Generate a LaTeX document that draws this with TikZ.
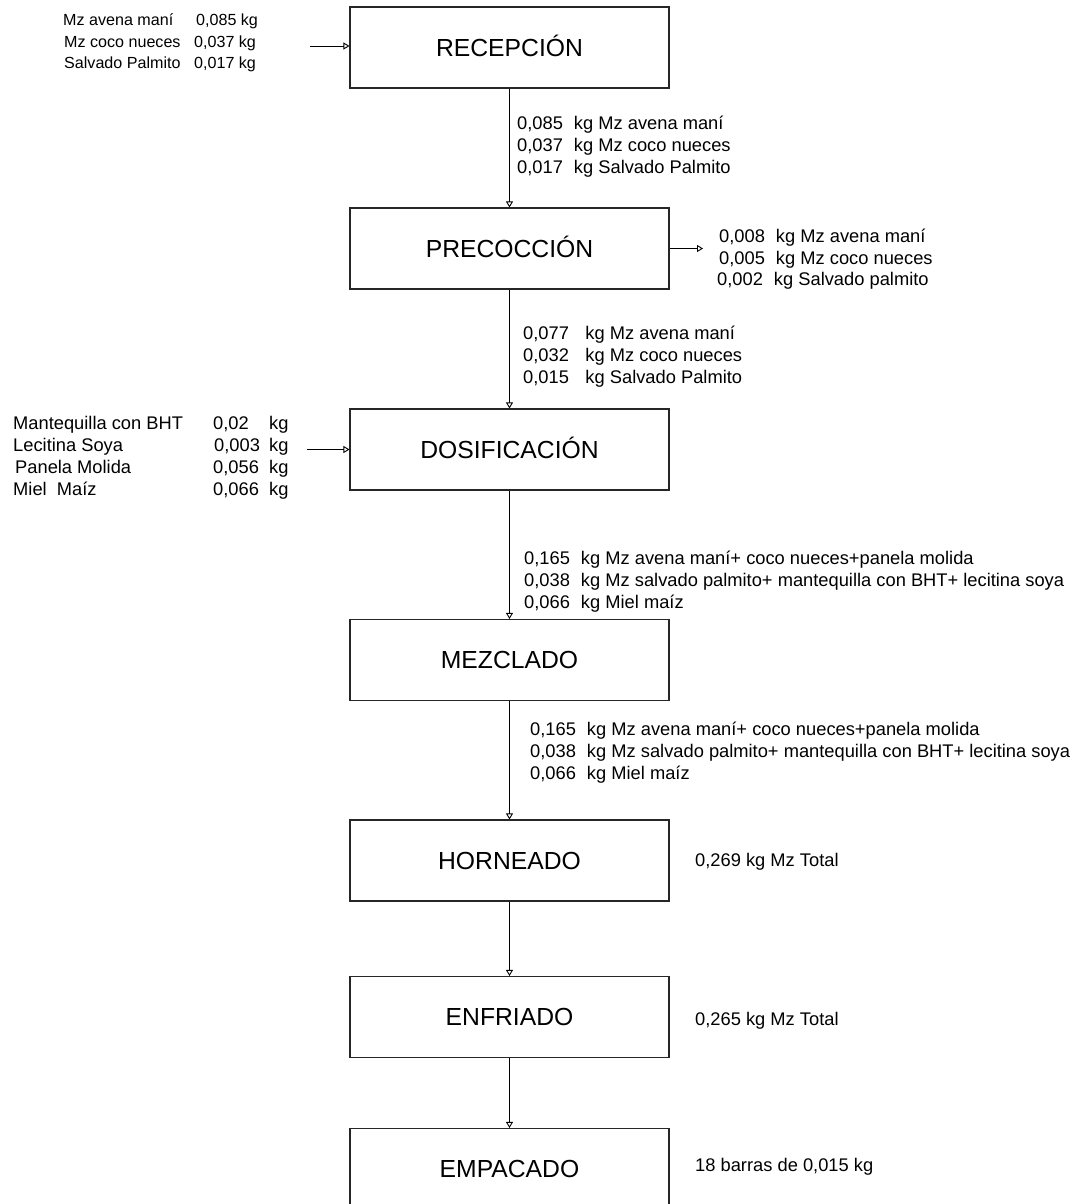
\documentclass[tikz,border=0pt]{standalone}
\usepackage{fontspec}
\setmainfont{Liberation Sans}
\usetikzlibrary{arrows.meta}
\newcommand{\kgap}{\hspace{11pt}}
\newcommand{\kgapw}{\hspace{16.5pt}}
\begin{document}
\begin{tikzpicture}[x=1pt,y=-1pt,
  stage/.style={draw=black!85, line width=1.1pt, minimum width=319pt, minimum height=81pt,
    inner sep=0pt, text height=17.8pt, text depth=0pt, font=\fontsize{24.7}{30}\selectfont},
  txt/.style={anchor=base west, inner sep=0pt, font=\fontsize{18.3}{22}\selectfont},
  txs/.style={anchor=base west, inner sep=0pt, font=\fontsize{16.1}{19}\selectfont},
  flow/.style={line width=0.9pt, -{Triangle[open,length=6pt,width=7pt]}}]
\useasboundingbox (0,0) rectangle (1081,1204);

% process stages
\node[stage] (rec)  at (509.5,47.5)  {RECEPCIÓN};
\node[stage] (prec) at (509.5,248.5) {PRECOCCIÓN};
\node[stage] (dos)  at (509.5,449.5) {DOSIFICACIÓN};
\node[stage] (mez)  at (509.5,660)   {MEZCLADO};
\node[stage] (hor)  at (509.5,860.5) {HORNEADO};
\node[stage] (enf)  at (509.5,1017)  {ENFRIADO};
\node[stage] (emp)  at (509.5,1169)  {EMPACADO};

% main flow
\draw[flow] (rec) -- (prec);
\draw[flow] (prec) -- (dos);
\draw[flow] (dos) -- (mez);
\draw[flow] (mez) -- (hor);
\draw[flow] (hor) -- (enf);
\draw[flow] (enf) -- (emp);

% raw material input
\node[txs] (in1a) at (63,26)   {Mz avena maní};
\node[txs] (in2a) at (64,47.5) {Mz coco nueces};
\node[txs] (in3a) at (64,69)   {Salvado Palmito};
\node[txs] (in1b) at (196,26)   {0,085 kg};
\node[txs] (in2b) at (194,47.5) {0,037 kg};
\node[txs] (in3b) at (194,69)   {0,017 kg};
\coordinate (inrec) at (310,46);
\draw[flow] (inrec) -- (inrec -| rec.west);

% after reception
\node[txt] (r1) at (517,129.5) {0,085\kgap kg Mz avena maní};
\node[txt] (r2) at (517,151.5) {0,037\kgap kg Mz coco nueces};
\node[txt] (r3) at (517,173)   {0,017\kgap kg Salvado Palmito};

% losses in pre-cooking
\coordinate (outprec) at (703,248.5);
\draw[flow] (prec.east) -- (outprec);
\node[txt] (p1) at (719,242.5) {0,008\kgap kg Mz avena maní};
\node[txt] (p2) at (719,264.5) {0,005\kgap kg Mz coco nueces};
\node[txt] (p3) at (717,285.5) {0,002\kgap kg Salvado palmito};

% after pre-cooking
\node[txt] (q1) at (523,339)   {0,077\kgapw kg Mz avena maní};
\node[txt] (q2) at (523,361)   {0,032\kgapw kg Mz coco nueces};
\node[txt] (q3) at (523,383)   {0,015\kgapw kg Salvado Palmito};

% ingredients added in dosing
\node[txt] (d1a) at (13,429) {Mantequilla con BHT};
\node[txt] (d2a) at (13,451) {Lecitina Soya};
\node[txt] (d3a) at (15,473) {Panela Molida};
\node[txt] (d4a) at (13,495) {Miel\ \ Maíz};
\node[txt] (d1b) at (213,429) {0,02};
\node[txt] (d2b) at (214,451) {0,003};
\node[txt] (d3b) at (213,473) {0,056};
\node[txt] (d4b) at (213,495) {0,066};
\node[txt] (d1c) at (269,429) {kg};
\node[txt] (d2c) at (269,451) {kg};
\node[txt] (d3c) at (269,473) {kg};
\node[txt] (d4c) at (269,495) {kg};
\coordinate (indos) at (307,449.5);
\draw[flow] (indos) -- (dos.west);

% after dosing
\node[txt] (m1) at (524,564) {0,165\kgap kg Mz avena maní+ coco nueces+panela molida};
\node[txt] (m2) at (524,586) {0,038\kgap kg Mz salvado palmito+ mantequilla con BHT+ lecitina soya};
\node[txt] (m3) at (524,608) {0,066\kgap kg Miel maíz};

% after mixing
\node[txt] (h1) at (530,735) {0,165\kgap kg Mz avena maní+ coco nueces+panela molida};
\node[txt] (h2) at (530,757) {0,038\kgap kg Mz salvado palmito+ mantequilla con BHT+ lecitina soya};
\node[txt] (h3) at (530,779) {0,066\kgap kg Miel maíz};

% totals
\node[txt] (tot1) at (695,866.5) {0,269 kg Mz Total};
\node[txt] (tot2) at (695,1025)  {0,265 kg Mz Total};
\node[txt] (tot3) at (695,1171)  {18 barras de 0,015 kg};
\end{tikzpicture}
\end{document}
